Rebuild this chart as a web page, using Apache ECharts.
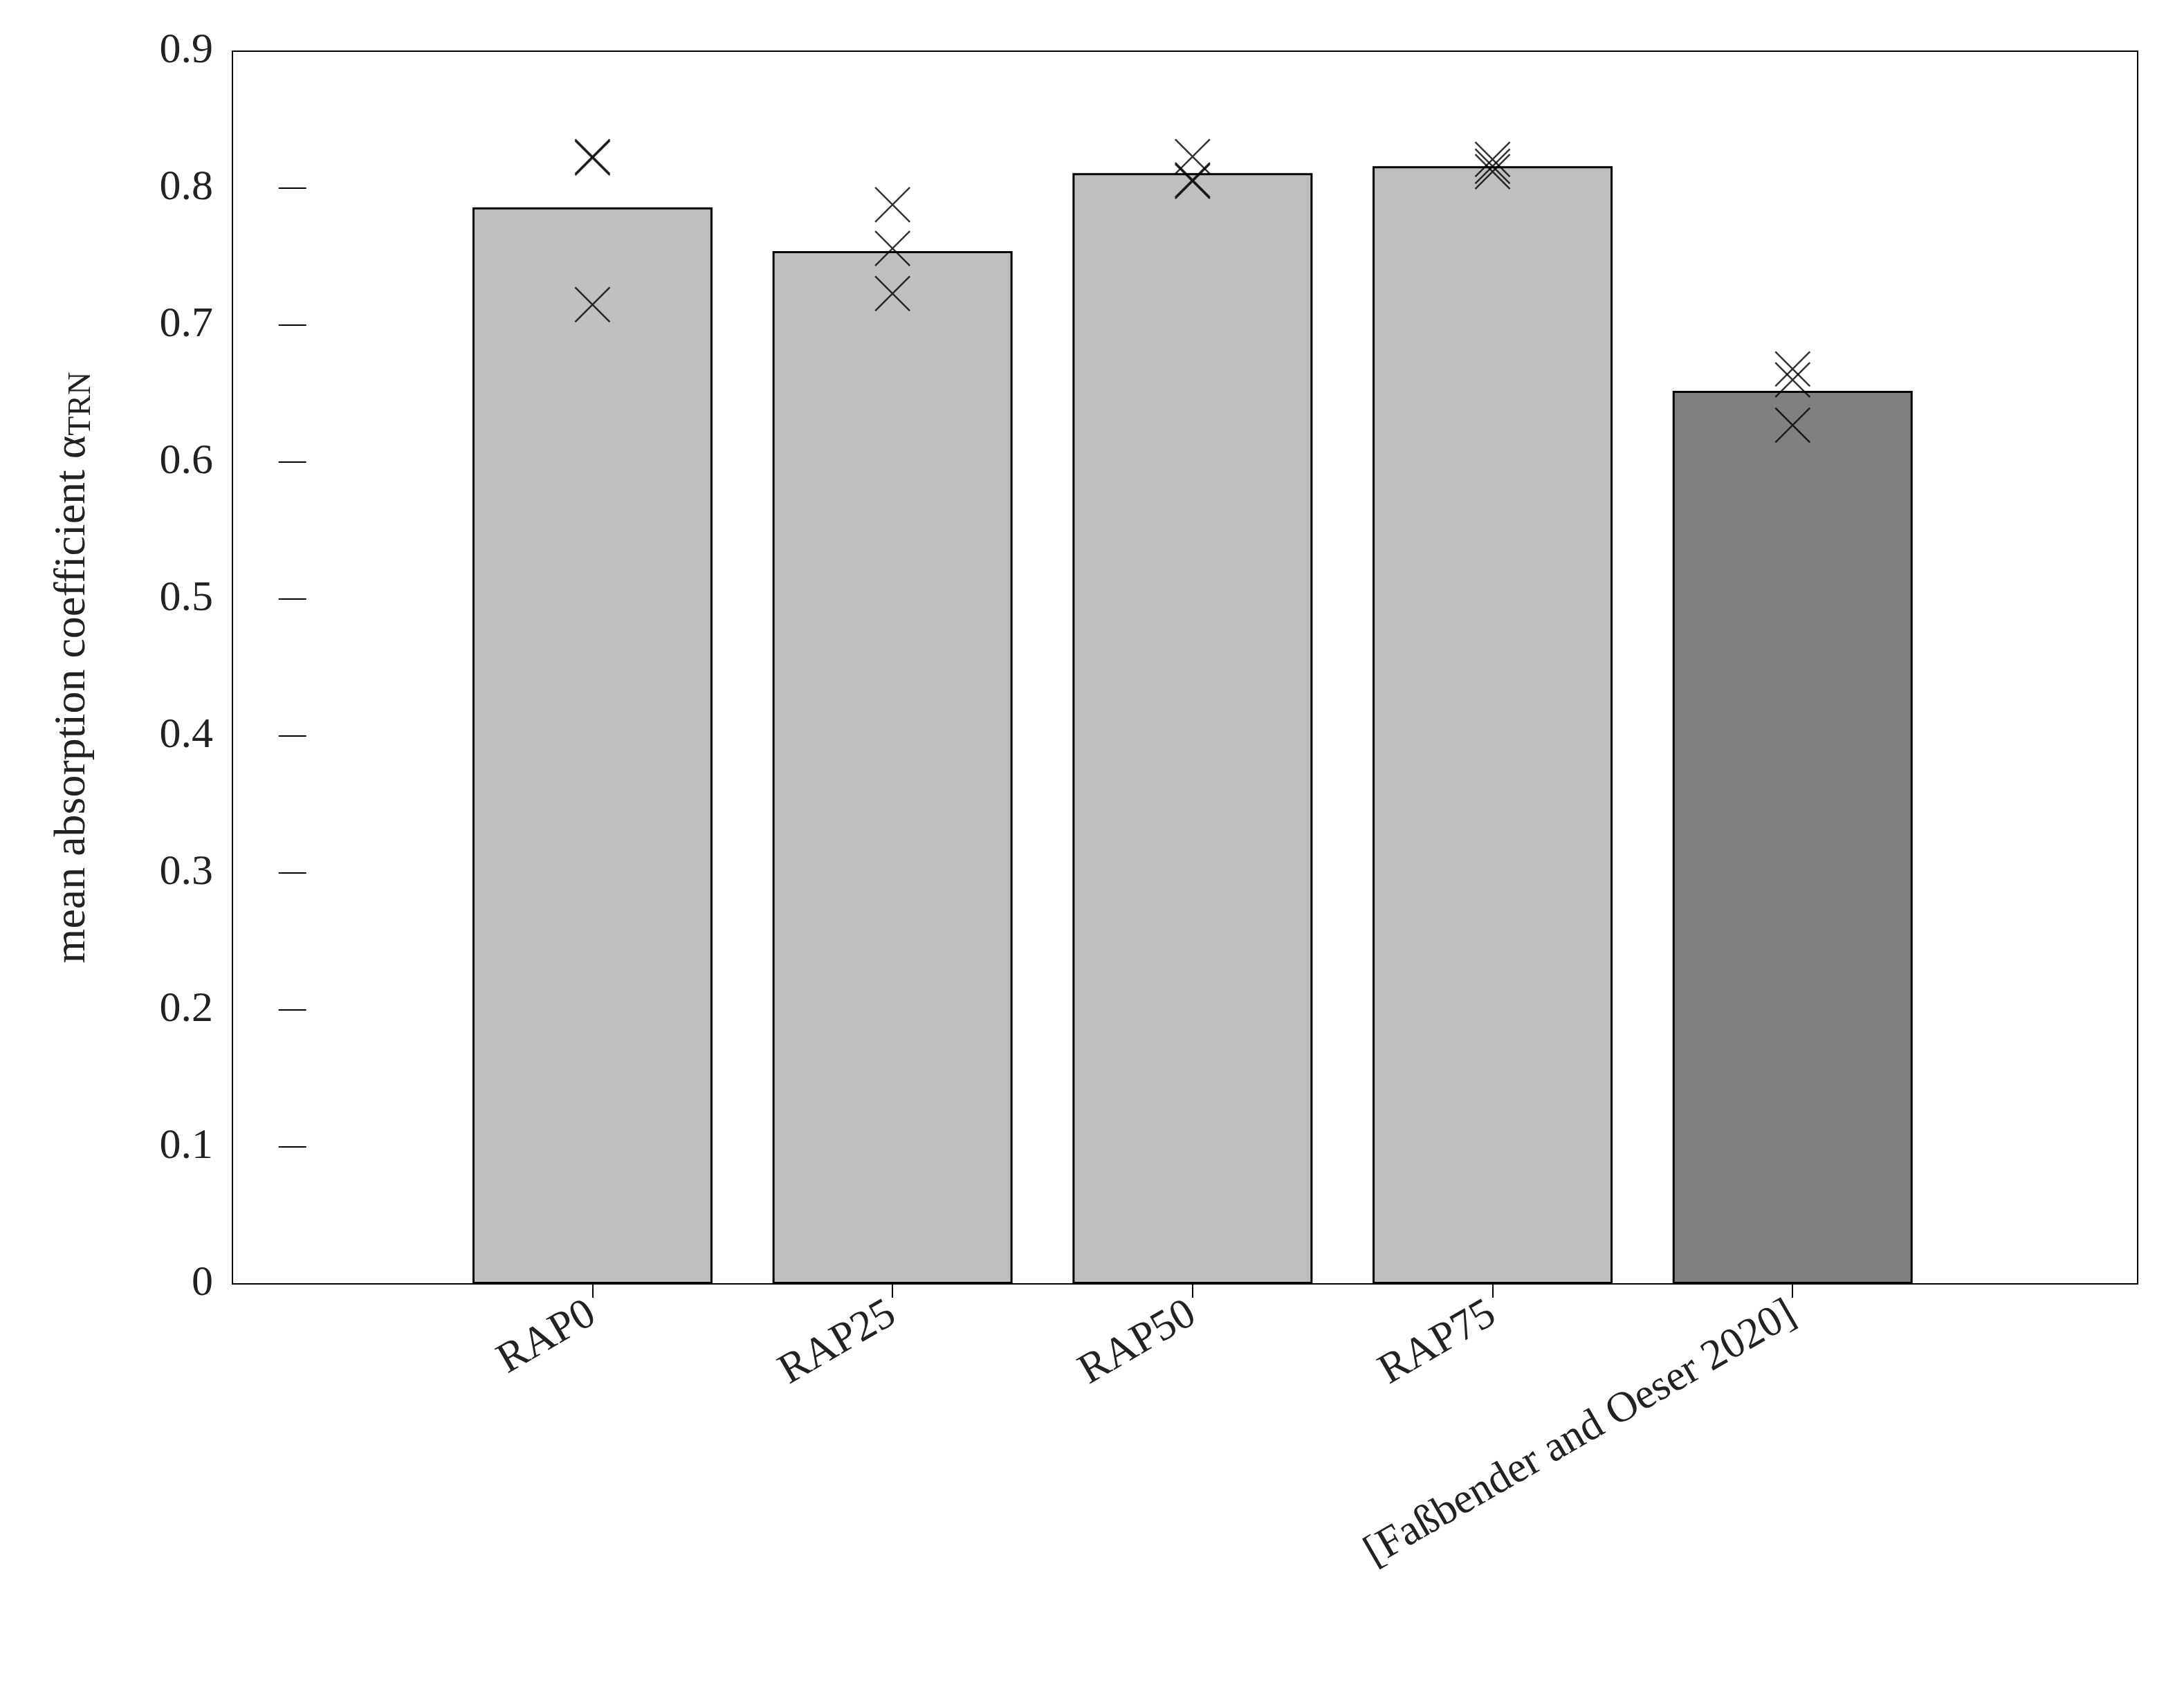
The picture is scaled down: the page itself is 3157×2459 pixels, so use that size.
<!DOCTYPE html>
<html>
<head>
<meta charset="utf-8">
<script src="https://cdn.jsdelivr.net/npm/echarts@6/dist/echarts.min.js"></script>
<style>html,body{margin:0;background:#fff}#chart{width:3157px;height:2459px}</style>
</head>
<body>
<div id="chart"></div>
<script>
// categories and values
var categories = ['RAP0', 'RAP25', 'RAP50', 'RAP75', '[Faßbender and Oeser 2020]'];
var positions = [1, 2, 3, 4, 5];
var barMeans = [0.786, 0.754, 0.811, 0.816, 0.652];
var barColors = ['#bfbfbf', '#bfbfbf', '#bfbfbf', '#bfbfbf', '#808080'];
var singleValues = [
  [0.823, 0.822, 0.715],
  [0.788, 0.756, 0.723],
  [0.823, 0.806, 0.805],
  [0.821, 0.816, 0.812],
  [0.668, 0.660, 0.627]
];
var yTicks = [0, 0.1, 0.2, 0.3, 0.4, 0.5, 0.6, 0.7, 0.8, 0.9];

$(function(){});
function $(f){ f(); }

var font = 'Liberation Serif';
var barData = positions.map(function(x, i){
  return { value: [x, barMeans[i]], itemStyle: { color: barColors[i] } };
});
var crossData = [];
positions.forEach(function(x, i){
  singleValues[i].forEach(function(v){ crossData.push([x, v]); });
});

var chart = echarts.init(document.getElementById('chart'));
chart.setOption({
  animation: false,
  backgroundColor: '#fff',
  grid: { left: 336, right: 67, top: 74, bottom: 603, show: true, borderColor: '#000', borderWidth: 2 },
  xAxis: [{
    type: 'value', min: -0.2, max: 6.15,
    splitLine: { show: false },
    axisLine: { show: false },
    axisTick: { inside: true, length: 20, customValues: positions, lineStyle: { color: '#000', width: 2 } },
    axisLabel: {
      customValues: positions, rotate: 30, fontFamily: font, fontSize: 62, color: '#222', margin: 40,
      formatter: function(v){ return categories[Math.round(v) - 1] || ''; }
    }
  }, {
    type: 'value', min: -0.2, max: 6.15, position: 'top',
    splitLine: { show: false }, axisLine: { show: false }, axisLabel: { show: false },
    axisTick: { inside: true, length: 20, customValues: positions, lineStyle: { color: '#000', width: 2 } }
  }],
  yAxis: [{
    type: 'value', min: 0, max: 0.9, interval: 0.1,
    splitLine: { show: false },
    axisLine: { show: false },
    axisTick: { inside: true, length: 20, lineStyle: { color: '#000', width: 2 } },
    axisLabel: { fontFamily: font, fontSize: 62, color: '#222', margin: 28,
      formatter: function(v){ return String(+v.toFixed(1)); } },
    name: '{m|mean absorption coefficient α}{s|TRN}',
    nameLocation: 'middle', nameGap: 195, nameRotate: 90,
    nameTextStyle: { rich: {
      m: { fontFamily: font, fontSize: 64, color: '#222' },
      s: { fontFamily: font, fontSize: 46, color: '#222', padding: [26, 0, 0, 0] }
    } }
  }, {
    type: 'value', min: 0, max: 0.9, interval: 0.1, position: 'right',
    splitLine: { show: false }, axisLine: { show: false }, axisLabel: { show: false },
    axisTick: { inside: true, length: 20, lineStyle: { color: '#000', width: 2 } }
  }],
  series: [{
    type: 'bar', data: barData, barWidth: 347,
    itemStyle: { borderColor: '#000', borderWidth: 3 }
  }, {
    type: 'scatter', data: crossData, z: 5,
    symbol: 'path://M0,0L10,10M10,0L0,10', symbolSize: 50, symbolKeepAspect: true,
    itemStyle: { color: 'none', borderColor: '#000', borderWidth: 2.5 }
  }]
});
</script>
</body>
</html>
